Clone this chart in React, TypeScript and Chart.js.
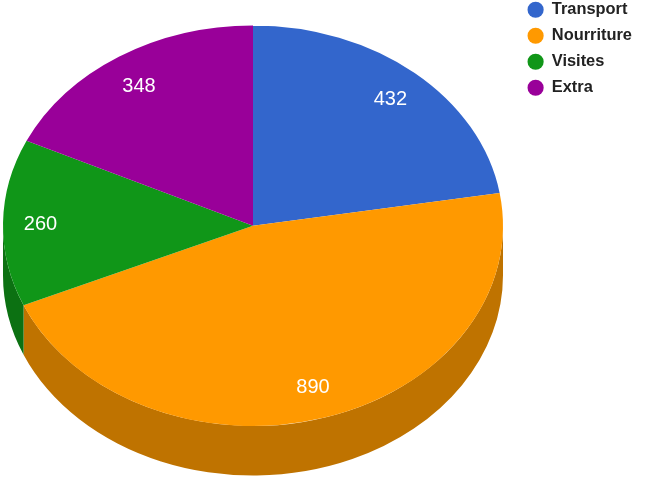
import React, { useEffect, useRef } from "react";
import { Chart, registerables } from "chart.js";

Chart.register(...registerables);

const categories = ["Transport", "Nourriture", "Visites", "Extra"];
const values = [432, 890, 260, 348];
const topColors = ["#3366cc", "#ff9900", "#109618", "#990099"];
const sideColors = ["#264d99", "#bf7300", "#0c7112", "#730073"];

const CX = 253;
const CY = 225.7;
const RX = 250;
const RY = 200.3;
const DEPTH = 49.5;
const LABEL_KX = 0.85;
const LABEL_KY = 0.835;
const LABEL_DY = 1.5;

const FONT = '"Liberation Sans", Arial, sans-serif';

const tiltPlugin = {
  id: "tilt",
  beforeDraw(chart: any) {
    // Legend sits in the top-right corner, above the chart's layout box.
    if (chart.legend) {
      const w = chart.legend.width;
      chart.legend.left = 518;
      chart.legend.right = 518 + w;
      chart.legend.top = -8;
    }
  },
  beforeDatasetsDraw(chart: any) {
    const ctx = chart.ctx;
    const arcs = chart.getDatasetMeta(0).data;
    const { x, y, outerRadius: R } = arcs[0];
    ctx.save();
    ctx.translate(CX, CY);
    ctx.scale(RX / R, RY / R);
    ctx.translate(-x, -y);
    const d = (DEPTH * R) / RY;
    // side walls: only the part of each slice on the front half is visible
    arcs.forEach((a: any, i: number) => {
      const start = Math.max(a.startAngle, 0);
      const end = Math.min(a.endAngle, Math.PI);
      if (end <= start) return;
      ctx.beginPath();
      ctx.arc(x, y, R, start, end);
      ctx.arc(x, y + d, R, end, start, true);
      ctx.closePath();
      ctx.fillStyle = sideColors[i];
      ctx.fill();
    });
  },
  afterDatasetsDraw(chart: any) {
    const ctx = chart.ctx;
    ctx.restore();
    const arcs = chart.getDatasetMeta(0).data;
    ctx.save();
    ctx.fillStyle = "#ffffff";
    ctx.font = `20px ${FONT}`;
    ctx.textAlign = "center";
    ctx.textBaseline = "middle";
    arcs.forEach((a: any, i: number) => {
      const mid = (a.startAngle + a.endAngle) / 2;
      ctx.fillText(
        String(values[i]),
        CX + RX * LABEL_KX * Math.cos(mid),
        CY + RY * LABEL_KY * Math.sin(mid) + LABEL_DY
      );
    });
    ctx.restore();
  },
};

export default function App() {
  const ref = useRef<HTMLCanvasElement>(null);
  useEffect(() => {
    const chart = new Chart(ref.current as HTMLCanvasElement, {
      type: "pie",
      data: {
        labels: categories,
        datasets: [
          {
            data: values,
            backgroundColor: topColors,
            borderWidth: 0,
            clip: false,
          } as any,
        ],
      },
      options: {
        responsive: false,
        animation: false,
        layout: { padding: 0 },
        plugins: {
          tooltip: { enabled: false },
          legend: {
            position: "right",
            align: "start",
            labels: {
              usePointStyle: true,
              pointStyle: "circle",
              boxWidth: 16,
              boxHeight: 11.4,
              padding: 9.6,
              color: "#222222",
              font: { family: FONT, size: 16.4, weight: "bold" },
            },
          },
        },
      },
      plugins: [tiltPlugin],
    } as any);
    return () => chart.destroy();
  }, []);
  return (
    <div style={{ position: "absolute", left: 0, top: 0, width: 660, height: 488 }}>
      <canvas ref={ref} width={660} height={488} style={{ display: "block" }} />
    </div>
  );
}
